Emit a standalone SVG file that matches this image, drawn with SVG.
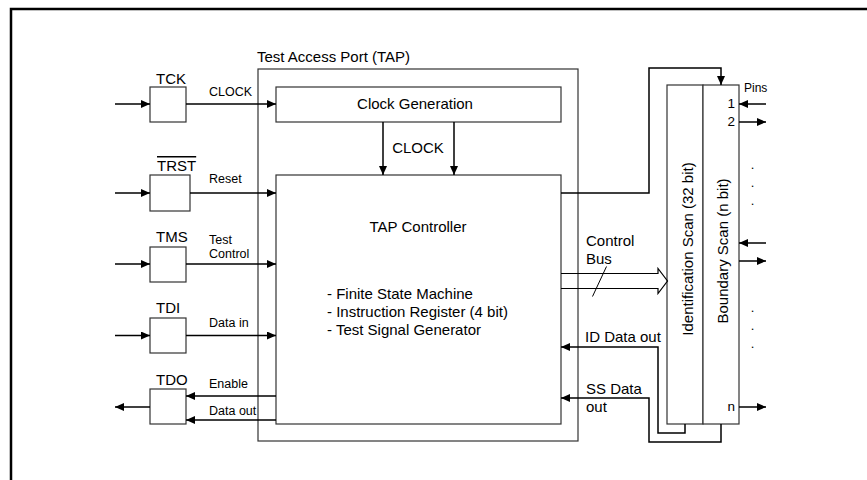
<svg xmlns="http://www.w3.org/2000/svg" width="867" height="480" viewBox="0 0 867 480">
<style>
text{font-family:"Liberation Sans",Arial,sans-serif;fill:#000}
.big{font-size:15px}
.sm{font-size:12.5px}
.num{font-size:13.5px}
.box{fill:#fff;stroke:#333;stroke-width:1.2}
.open{fill:none;stroke:#333;stroke-width:1.2}
.ln{fill:none;stroke:#000;stroke-width:1.5}
.frame{fill:none;stroke:#000;stroke-width:2.5}
</style>
<defs>
<marker id="ah" markerWidth="9" markerHeight="8" refX="9" refY="4" orient="auto" markerUnits="userSpaceOnUse"><path d="M0,0 L9,4 L0,8 z" fill="#000"/></marker>
</defs>
<rect width="867" height="480" fill="#fff"/>
<path class="frame" d="M11,480 V9 H867"/>

<g id="tap">
<rect class="open" x="258" y="69" width="320" height="372"/>
<text class="big" x="257" y="61.5">Test Access Port (TAP)</text>
</g>
<g id="clockgen">
<rect class="box" x="276" y="87" width="285" height="35"/>
<text class="big" x="415" y="108.5" text-anchor="middle">Clock Generation</text>
</g>
<g id="tapctrl">
<rect class="box" x="276" y="175" width="285" height="249"/>
<text class="big" x="418" y="231.5" text-anchor="middle">TAP Controller</text>
<text class="big" x="327" y="299">- Finite State Machine</text>
<text class="big" x="327" y="317">- Instruction Register (4 bit)</text>
<text class="big" x="327" y="335">- Test Signal Generator</text>
</g>
<g id="tck">
<rect class="box" x="150" y="87" width="36" height="35"/>
<text class="big" x="156" y="84">TCK</text>
</g>
<g id="trst">
<rect class="box" x="150" y="175" width="40" height="36"/>
<text class="big" x="157" y="171" text-decoration="overline">TRST</text>
</g>
<g id="tms">
<rect class="box" x="150" y="247" width="36" height="35"/>
<text class="big" x="156" y="242">TMS</text>
</g>
<g id="tdi">
<rect class="box" x="150" y="318" width="36" height="35"/>
<text class="big" x="156" y="313">TDI</text>
</g>
<g id="tdo">
<rect class="box" x="150" y="389" width="36" height="35"/>
<text class="big" x="156" y="384.5">TDO</text>
</g>
<g id="idscan">
<rect class="box" x="667" y="85" width="36" height="339"/>
<text class="big" transform="translate(693,249) rotate(-90)" text-anchor="middle">Identification Scan (32 bit)</text>
</g>
<g id="bscan">
<rect class="box" x="703" y="85" width="36" height="339"/>
<text class="big" transform="translate(727.5,251) rotate(-90)" text-anchor="middle">Boundary Scan (n bit)</text>
<text x="744" y="91.5" font-size="12">Pins</text>
<text class="num" x="735" y="107.5" text-anchor="end">1</text>
<text class="num" x="735" y="126" text-anchor="end">2</text>
<text class="num" x="735" y="411" text-anchor="end">n</text>
<g font-size="13" text-anchor="middle">
<text x="752.5" y="168.5">.</text>
<text x="752.5" y="187">.</text>
<text x="752.5" y="205">.</text>
<text x="752.5" y="312">.</text>
<text x="752.5" y="330">.</text>
<text x="752.5" y="348">.</text>
</g>
</g>

<g id="connectors">
<line class="ln" x1="115" y1="104" x2="150" y2="104" marker-end="url(#ah)"/>
<line class="ln" x1="115" y1="193" x2="150" y2="193" marker-end="url(#ah)"/>
<line class="ln" x1="115" y1="264" x2="150" y2="264" marker-end="url(#ah)"/>
<line class="ln" x1="115" y1="335.5" x2="150" y2="335.5" marker-end="url(#ah)"/>
<line class="ln" x1="150" y1="407" x2="115" y2="407" marker-end="url(#ah)"/>
<line class="ln" x1="186" y1="104" x2="276" y2="104" marker-end="url(#ah)"/>
<line class="ln" x1="190" y1="193" x2="276" y2="193" marker-end="url(#ah)"/>
<line class="ln" x1="186" y1="264" x2="276" y2="264" marker-end="url(#ah)"/>
<line class="ln" x1="186" y1="335.5" x2="276" y2="335.5" marker-end="url(#ah)"/>
<line class="ln" x1="276" y1="396" x2="186" y2="396" marker-end="url(#ah)"/>
<line class="ln" x1="276" y1="420" x2="186" y2="420" marker-end="url(#ah)"/>
<text class="sm" x="209" y="96">CLOCK</text>
<text class="sm" x="209" y="183">Reset</text>
<text class="sm" x="209" y="243.5">Test</text>
<text class="sm" x="209" y="258">Control</text>
<text class="sm" x="209" y="327">Data in</text>
<text class="sm" x="209" y="387.5">Enable</text>
<text class="sm" x="209" y="415">Data out</text>
<line class="ln" x1="383" y1="122" x2="383" y2="175" marker-end="url(#ah)"/>
<line class="ln" x1="454" y1="122" x2="454" y2="175" marker-end="url(#ah)"/>
<text class="big" x="418" y="152.5" text-anchor="middle">CLOCK</text>
<path class="ln" d="M561,193 H649 V68 H721 V85" marker-end="url(#ah)"/>
<path fill="none" stroke="#000" stroke-width="1.2" d="M561,273.5 H658 V268.5 L667.5,281 L658,293.5 V288.5 H561"/>
<line stroke="#000" stroke-width="1" x1="606.5" y1="266.5" x2="592.5" y2="296.5"/>
<text class="big" x="586" y="246">Control</text>
<text class="big" x="586" y="263.5">Bus</text>
<path class="ln" d="M685,424 V433 H658 V347 H561" marker-end="url(#ah)"/>
<path class="ln" d="M721,424 V442 H649 V398 H561" marker-end="url(#ah)"/>
<text class="big" x="585" y="341.5">ID Data out</text>
<text class="big" x="586" y="393.5">SS Data</text>
<text class="big" x="586" y="411.5">out</text>
<line class="ln" x1="766" y1="104" x2="739" y2="104" marker-end="url(#ah)"/>
<line class="ln" x1="739" y1="122" x2="766" y2="122" marker-end="url(#ah)"/>
<line class="ln" x1="766" y1="243" x2="739" y2="243" marker-end="url(#ah)"/>
<line class="ln" x1="739" y1="261" x2="766" y2="261" marker-end="url(#ah)"/>
<line class="ln" x1="739" y1="407" x2="766" y2="407" marker-end="url(#ah)"/>
</g>
</svg>
